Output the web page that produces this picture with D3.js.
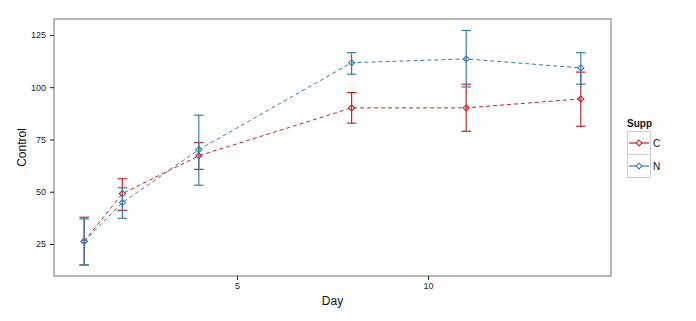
<!DOCTYPE html>
<html><head><meta charset="utf-8">
<script src="https://cdn.jsdelivr.net/npm/d3@7"></script>
<style>body{margin:0;background:#fff}svg{display:block}text{font-family:"Liberation Sans",Arial,sans-serif}</style>
</head><body><svg id="c" width="696" height="321"></svg>
<script>
const days = [1, 2, 4, 8, 11, 14];
const seriesNames = ["C", "N"];
const cMean = [26.3, 49.1, 67.2, 90.1, 90.1, 94.4];
const cLow  = [15.0, 41.1, 60.7, 82.8, 78.9, 81.3];
const cHigh = [37.8, 56.2, 73.5, 97.4, 101.4, 107.2];
const nMean = [26.3, 44.8, 70.1, 111.7, 113.5, 109.2];
const nLow  = [15.0, 37.3, 53.1, 106.2, 100.1, 101.4];
const nHigh = [37.0, 51.9, 86.6, 116.5, 127.1, 116.5];
const xTicks = [5, 10];
const yTicks = [25, 50, 75, 100, 125];
const colors = {C: "#c1272d", N: "#3a7eab"};

const series = [
  {name: "C", mean: cMean, low: cLow, high: cHigh},
  {name: "N", mean: nMean, low: nLow, high: nHigh}
];

const svg = d3.select("#c");
const L = 54, R = 611, T = 19, B = 276;
const x = d3.scaleLinear().domain([0.21, 14.79]).range([L, R]);
const y = d3.scaleLinear().domain([9.7, 132.6]).range([B, T]);

// panel border
svg.append("rect").attr("x", L).attr("y", T).attr("width", R - L).attr("height", B - T)
  .attr("fill", "none").attr("stroke", "#7f7f7f").attr("stroke-width", 1.1);

// axes
const xa = svg.append("g").attr("transform", `translate(0,${B})`)
  .call(d3.axisBottom(x).tickValues(xTicks).tickSize(4).tickPadding(3));
const ya = svg.append("g").attr("transform", `translate(${L},0)`)
  .call(d3.axisLeft(y).tickValues(yTicks).tickSize(4).tickPadding(4));
[xa, ya].forEach(a => {
  a.select(".domain").remove();
  a.selectAll(".tick line").attr("stroke", "#222");
  a.selectAll(".tick text").attr("fill", "#222").style("font-size", "9px");
});

svg.append("text").attr("x", (L + R) / 2).attr("y", 305).attr("text-anchor", "middle")
  .style("font-size", "12px").attr("fill", "#111").text("Day");
svg.append("text").attr("transform", `translate(25.5,${(T + B) / 2}) rotate(-90)`)
  .attr("text-anchor", "middle").style("font-size", "12px").attr("fill", "#111").text("Control");

const capW = 0.125;
const line = d3.line().x(d => x(d[0])).y(d => y(d[1]));

series.forEach(s => {
  const col = colors[s.name];
  const g = svg.append("g");
  g.append("path").datum(days.map((d, i) => [d, s.mean[i]]))
    .attr("d", line).attr("fill", "none").attr("stroke", col)
    .attr("stroke-width", 1).attr("stroke-dasharray", "4,3");
  days.forEach((d, i) => {
    g.append("line").attr("x1", x(d)).attr("x2", x(d)).attr("y1", y(s.low[i])).attr("y2", y(s.high[i]))
      .attr("stroke", col).attr("stroke-width", 1.2);
    [s.low[i], s.high[i]].forEach(v => {
      g.append("line").attr("x1", x(d - capW)).attr("x2", x(d + capW)).attr("y1", y(v)).attr("y2", y(v))
        .attr("stroke", col).attr("stroke-width", 1.2);
    });
  });
  g.selectAll("path.pt").data(days.map((d, i) => [d, s.mean[i]])).join("path")
    .attr("class", "pt")
    .attr("transform", d => `translate(${x(d[0])},${y(d[1])})`)
    .attr("d", d3.symbol().type(d3.symbolDiamond2).size(24))
    .attr("fill", "none").attr("stroke", col).attr("stroke-width", 1.1);
});

// legend
const lg = svg.append("g");
lg.append("text").attr("x", 627).attr("y", 127).style("font-size", "10px").style("font-weight", "bold")
  .attr("fill", "#111").text("Supp");
seriesNames.forEach((n, i) => {
  const y0 = 131 + i * 23;
  lg.append("rect").attr("x", 627.5).attr("y", y0 + 0.5).attr("width", 23).attr("height", 23)
    .attr("fill", "#fff").attr("stroke", "#cccccc").attr("stroke-width", 1);
  lg.append("line").attr("x1", 629).attr("x2", 649).attr("y1", y0 + 12).attr("y2", y0 + 12)
    .attr("stroke", colors[n]).attr("stroke-width", 1.2);
  lg.append("path").attr("transform", `translate(639,${y0 + 12})`)
    .attr("d", d3.symbol().type(d3.symbolDiamond2).size(22))
    .attr("fill", "#fff").attr("stroke", colors[n]).attr("stroke-width", 1.1);
  lg.append("text").attr("x", 653).attr("y", y0 + 16).style("font-size", "10px").attr("fill", "#111").text(n);
});
</script></body></html>
